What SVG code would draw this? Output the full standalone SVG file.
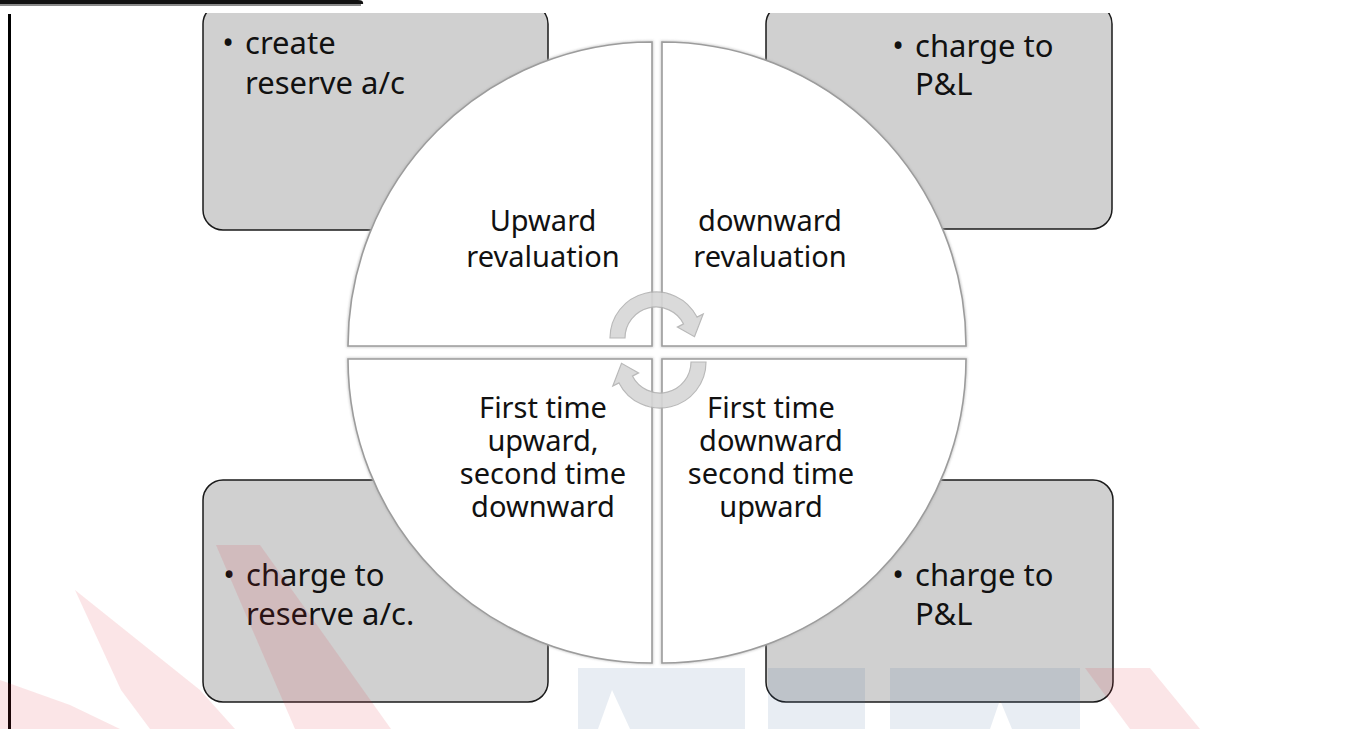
<svg xmlns="http://www.w3.org/2000/svg" width="1359" height="729" viewBox="0 0 1359 729">
  <defs>
    <style>
      .box { fill: #d0d0d0; stroke: #1a1a1a; stroke-width: 1.5; }
      .quad { fill: #ffffff; stroke: #9c9c9c; stroke-width: 1.6; }
      .halo { fill: none; stroke: #b0b0b0; stroke-width: 3; opacity: 0.6; }
      .t { font-family: "Noto Sans", "Open Sans", sans-serif; fill: #111111; }
      .c { font-size: 29px; text-anchor: middle; }
      .b { font-size: 31px; }
      .arr { fill: #d7d7d7; stroke: #b2b2b2; stroke-width: 1.2; opacity: 0.9; }
      .pink { fill: #e0283a; opacity: 0.12; }
      .blue { fill: #3f6aa0; opacity: 0.12; }
    </style>
    <clipPath id="below-bar">
      <rect x="0" y="13" width="1359" height="716"/>
    </clipPath>
    <filter id="soft" x="-5%" y="-5%" width="110%" height="110%">
      <feGaussianBlur stdDeviation="1.2"/>
    </filter>
    <!-- curved cycle arrow, drawn once and reused rotated -->
    <path id="cycle-arrow" d="M610,338 A46,46 0 0 1 697,317.1 L703.2,313.9 L694.5,336.7 L677.4,327.1 L683.6,323.9 A31,31 0 0 0 625,338 Z"/>
  </defs>

  <rect width="1359" height="729" fill="#ffffff"/>

  <!-- page frame: top bar and left rule -->
  <g id="frame">
    <path d="M0,0 H358 Q364,0 363,4 H0 Z" fill="#111111"/>
    <rect x="0" y="4" width="361" height="2" fill="#8a8a8a"/>
    <rect x="8" y="14" width="3" height="715" fill="#000000"/>
  </g>

  <!-- corner boxes -->
  <g clip-path="url(#below-bar)">
    <g id="box-tl">
      <rect class="box" x="203" y="4" width="345" height="226" rx="20"/>
      <text class="t b" x="228" y="54" text-anchor="middle">•</text>
      <text class="t b" x="245" y="54">create</text>
      <text class="t b" x="245" y="94">reserve a/c</text>
    </g>
    <g id="box-tr">
      <rect class="box" x="766" y="4" width="346" height="225" rx="20"/>
      <text class="t b" x="898" y="57" text-anchor="middle">•</text>
      <text class="t b" x="915" y="57">charge to</text>
      <text class="t b" x="915" y="95">P&amp;L</text>
    </g>
  </g>
  <g id="box-bl">
    <rect class="box" x="203" y="480" width="345" height="222" rx="20"/>
    <text class="t b" x="229" y="586" text-anchor="middle">•</text>
    <text class="t b" x="246" y="586">charge to</text>
    <text class="t b" x="246" y="625">reserve a/c.</text>
  </g>
  <g id="box-br">
    <rect class="box" x="766" y="480" width="347" height="222" rx="20"/>
    <text class="t b" x="898" y="586" text-anchor="middle">•</text>
    <text class="t b" x="915" y="586">charge to</text>
    <text class="t b" x="915" y="625">P&amp;L</text>
  </g>

  <!-- circle split into four quarters -->
  <g id="quad-tl">
    <path class="halo" filter="url(#soft)" d="M652,346 H348 A304,304 0 0 1 652,42 Z"/>
    <path class="quad" d="M652,346 H348 A304,304 0 0 1 652,42 Z"/>
    <text class="t c" x="543" y="231">Upward</text>
    <text class="t c" x="543" y="267">revaluation</text>
  </g>
  <g id="quad-tr">
    <path class="halo" filter="url(#soft)" d="M662,346 V42 A304,304 0 0 1 966,346 Z"/>
    <path class="quad" d="M662,346 V42 A304,304 0 0 1 966,346 Z"/>
    <text class="t c" x="770" y="231">downward</text>
    <text class="t c" x="770" y="267">revaluation</text>
  </g>
  <g id="quad-bl">
    <path class="halo" filter="url(#soft)" d="M652,359 V663 A304,304 0 0 1 348,359 Z"/>
    <path class="quad" d="M652,359 V663 A304,304 0 0 1 348,359 Z"/>
    <text class="t c" x="543" y="418">First time</text>
    <text class="t c" x="543" y="451">upward,</text>
    <text class="t c" x="543" y="484">second time</text>
    <text class="t c" x="543" y="517">downward</text>
  </g>
  <g id="quad-br">
    <path class="halo" filter="url(#soft)" d="M662,359 H966 A304,304 0 0 1 662,663 Z"/>
    <path class="quad" d="M662,359 H966 A304,304 0 0 1 662,663 Z"/>
    <text class="t c" x="771" y="418">First time</text>
    <text class="t c" x="771" y="451">downward</text>
    <text class="t c" x="771" y="484">second time</text>
    <text class="t c" x="771" y="517">upward</text>
  </g>

  <!-- connectors: the two curved cycle arrows in the middle -->
  <g id="connectors">
    <use href="#cycle-arrow" class="arr"/>
    <use href="#cycle-arrow" class="arr" transform="rotate(180 658 350)"/>
  </g>

  <!-- faint logo watermark along the bottom -->
  <g id="watermark">
    <polygon class="pink" points="75,590 200,690 235,729 150,729 121,690 98,640"/>
    <polygon class="pink" points="216,545 260,545 391,729 295,729"/>
    <polygon class="pink" points="0,680 70,705 120,729 0,729"/>
    <polygon class="blue" points="578,668 745,668 745,729 630,729 612,690 598,729 578,729"/>
    <polygon class="blue" points="768,668 865,668 865,729 768,729"/>
    <polygon class="blue" points="890,668 1080,668 1080,729 1012,729 1000,700 990,729 890,729"/>
    <polygon class="pink" points="1085,668 1150,668 1200,729 1130,729"/>
  </g>
</svg>
